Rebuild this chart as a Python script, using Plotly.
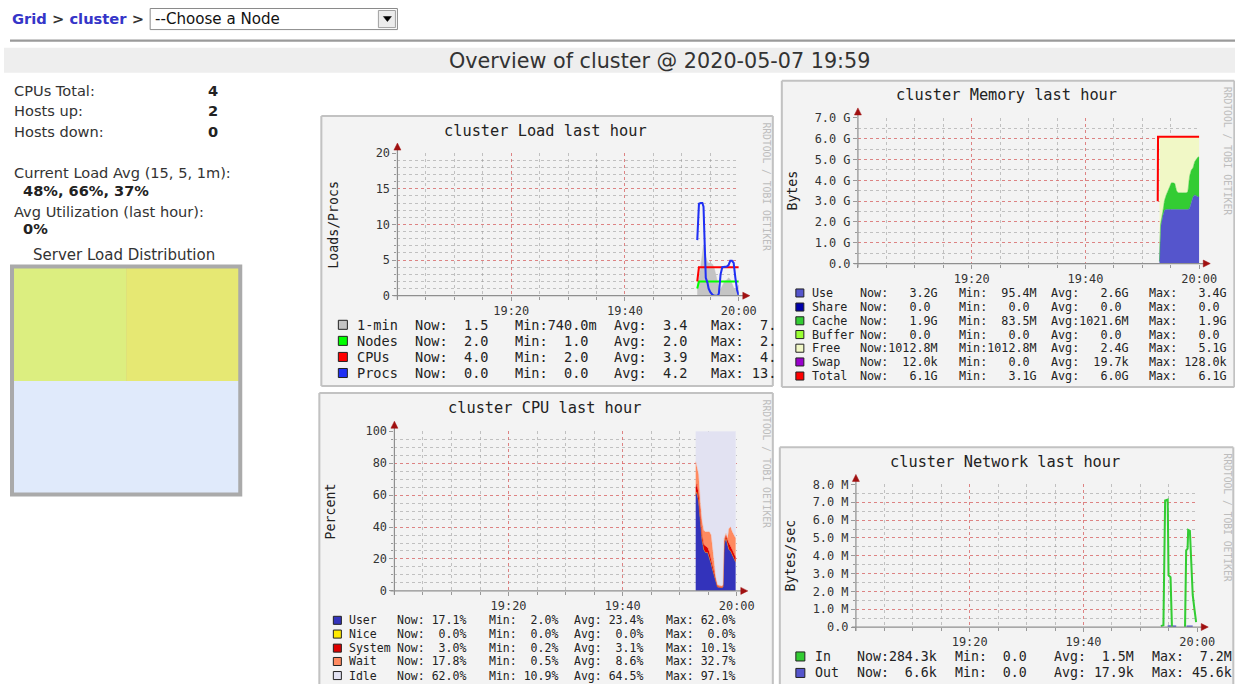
import plotly.graph_objects as go

# Geometry below is written in reference-image pixels. The rendered page comes
# out slightly compressed, so the figure is built a little larger and every
# reference pixel is mapped through SX / SY / OY.
SX, SY, OY = 0.9846, 0.976, 7.5
FS = 1 / 0.98
W, H = 1254, 701


def X(px):
    return (px / SX) / W


def Y(py):
    return 1 - ((py - OY) / SY) / H


# ------------------------------------------------------------------ data
time_ticks = [20, 40, 60]                      # minutes after 19:00
time_labels = ["19:20", "19:40", "20:00"]

# Load chart (minutes after 19:00)
load_t = [52.7, 53.0, 53.3, 53.6, 53.8, 54.0, 54.2, 54.5, 54.7, 55.0, 55.4, 55.7, 56.0,
          56.3, 56.5, 56.8, 57.1, 57.5, 57.9, 58.2, 58.5, 58.8, 59.1, 59.4, 59.7, 60.0]
load_1min = [1.5, 2.5, 4.0, 6.0, 7.1, 7.0, 5.5, 4.7, 4.6, 4.6, 4.4, 3.8, 2.6,
             1.6, 1.1, 0.9, 1.4, 2.0, 2.2, 2.5, 2.3, 1.7, 1.1, 0.9, 1.2, 1.5]
load_nodes = [1.0, 2.0, 2.0, 2.0, 2.0, 2.0, 2.0, 2.0, 2.0, 2.0, 2.0, 2.0, 2.0,
              2.0, 2.0, 2.0, 2.0, 2.0, 2.0, 2.0, 2.0, 2.0, 2.0, 2.0, 2.0, 2.0]
load_cpus = [2.0, 4.0, 4.0, 4.0, 4.0, 4.0, 4.0, 4.0, 4.0, 4.0, 4.0, 4.0, 4.0,
             4.0, 4.0, 4.0, 4.0, 4.0, 4.0, 4.0, 4.0, 4.0, 4.0, 4.0, 4.0, 4.0]
load_procs = [7.8, 12.9, 13.0, 13.0, 12.5, 6.0, 2.5, 1.8, 1.0, 0.5, 0.1, 0.0, 0.0,
              0.0, 0.3, 3.0, 4.0, 4.0, 4.1, 4.3, 4.9, 4.9, 4.6, 2.5, 0.8, 0.0]

# Memory chart (GB)
mem_t = [53.0, 53.2, 53.6, 53.9, 54.2, 54.5, 54.8, 55.1, 55.4, 55.7, 56.0, 56.3, 57.0,
         57.7, 58.0, 58.3, 58.6, 58.9, 59.2, 59.5, 59.8, 60.0]
mem_use = [0.1, 1.75, 2.3, 2.56, 2.6, 2.6, 2.6, 2.6, 2.6, 2.6, 2.6, 2.6, 2.6,
           2.6, 2.6, 2.65, 3.0, 3.2, 3.3, 3.24, 3.2, 3.2]
mem_cache = [0.0, 0.15, 0.2, 0.48, 0.7, 0.9, 1.15, 1.28, 1.28, 1.25, 0.9, 0.8, 0.8,
             0.8, 0.85, 1.55, 1.5, 1.4, 1.6, 1.76, 1.93, 1.9]
mem_free = [6.0, 4.2, 3.6, 3.06, 2.8, 2.6, 2.35, 2.22, 2.22, 2.25, 2.6, 2.7, 2.7,
            2.7, 2.65, 1.9, 1.6, 1.5, 1.2, 1.1, 0.97, 1.0]
mem_total_t = [52.7, 52.75, 60.0]
mem_total = [3.0, 6.1, 6.1]

# CPU chart (percent)
cpu_t = [52.8, 53.0, 53.3, 53.6, 53.9, 54.2, 54.5, 54.9, 55.2, 55.5, 55.7, 56.0, 56.3,
         56.6, 57.0, 57.4, 57.6, 57.8, 58.1, 58.4, 58.6, 58.9, 59.2, 59.5, 59.8]
cpu_user = [60, 62, 56, 43, 32, 26, 24, 24, 21, 17, 14, 10, 5,
            2.5, 2.2, 2.0, 2.5, 29, 33, 28, 26, 25, 23, 21, 18]
cpu_nice = [0, 0, 0, 0, 0, 0, 0, 0, 0, 0, 0, 0, 0,
            0, 0, 0, 0, 0, 0, 0, 0, 0, 0, 0, 0]
cpu_system = [4, 5, 5, 4, 3, 3, 4, 3, 3, 2, 2, 1, 1,
              0.5, 0.3, 0.3, 0.3, 2, 1.5, 3, 4, 3, 3, 3, 3]
cpu_wait = [17, 10, 12, 9, 9, 9, 9, 10, 13, 16, 13, 8, 2.5,
            0.8, 0.7, 0.8, 1.0, 2, 1.5, 2, 9, 12, 11, 11, 12]
cpu_idle = [19, 23, 27, 44, 56, 62, 63, 63, 63, 65, 71, 81, 91.5,
            96.2, 96.8, 96.9, 96.2, 67, 64, 67, 61, 60, 63, 65, 67]

# Network chart (MB/s)
net_in_t = [53.6, 54.05, 54.35, 54.8, 54.95, 55.3, 55.55, 56.5,
            57.85, 58.05, 58.3, 58.4, 58.7, 58.95, 59.2, 59.5, 59.8]
net_in = [0.05, 0.1, 7.1, 7.15, 2.9, 2.8, 0.0, None,
          0.0, 4.3, 4.4, 5.45, 5.4, 3.0, 1.8, 1.0, 0.28]
net_out_t = [54.8, 55.2, 55.6, 56.3, 57.0, 58.1, 58.5, 58.9, 59.2]
net_out = [0.04, 0.045, 0.04, 0.03, None, 0.03, 0.04, 0.04, 0.03]

# Legends (label, now, min, avg, max)
load_legend = [
    ("1-min", "Now:  1.5", "Min:740.0m", "Avg:  3.4", "Max:  7."),
    ("Nodes", "Now:  2.0", "Min:  1.0", "Avg:  2.0", "Max:  2."),
    ("CPUs", "Now:  4.0", "Min:  2.0", "Avg:  3.9", "Max:  4."),
    ("Procs", "Now:  0.0", "Min:  0.0", "Avg:  4.2", "Max: 13."),
]
load_colors = ["#c4c4c4", "#00ff00", "#ff0000", "#2030f4"]

mem_legend = [
    ("Use", "Now:   3.2G", "Min:  95.4M", "Avg:   2.6G", "Max:   3.4G"),
    ("Share", "Now:   0.0", "Min:   0.0", "Avg:   0.0", "Max:   0.0"),
    ("Cache", "Now:   1.9G", "Min:  83.5M", "Avg:1021.6M", "Max:   1.9G"),
    ("Buffer", "Now:   0.0", "Min:   0.0", "Avg:   0.0", "Max:   0.0"),
    ("Free", "Now:1012.8M", "Min:1012.8M", "Avg:   2.4G", "Max:   5.1G"),
    ("Swap", "Now:  12.0k", "Min:   0.0", "Avg:  19.7k", "Max: 128.0k"),
    ("Total", "Now:   6.1G", "Min:   3.1G", "Avg:   6.0G", "Max:   6.1G"),
]
mem_colors = ["#5555cc", "#0000aa", "#33cc33", "#99ff33", "#f1f8c6", "#9900cc", "#ff0000"]

cpu_legend = [
    ("User", "Now: 17.1%", "Min:  2.0%", "Avg: 23.4%", "Max: 62.0%"),
    ("Nice", "Now:  0.0%", "Min:  0.0%", "Avg:  0.0%", "Max:  0.0%"),
    ("System", "Now:  3.0%", "Min:  0.2%", "Avg:  3.1%", "Max: 10.1%"),
    ("Wait", "Now: 17.8%", "Min:  0.5%", "Avg:  8.6%", "Max: 32.7%"),
    ("Idle", "Now: 62.0%", "Min: 10.9%", "Avg: 64.5%", "Max: 97.1%"),
]
cpu_colors = ["#3333bb", "#ffea00", "#dd0000", "#ff8a60", "#e2e2f2"]

net_legend = [
    ("In", "Now:284.3k", "Min:  0.0", "Avg:  1.5M", "Max:  7.2M"),
    ("Out", "Now:  6.6k", "Min:  0.0", "Avg: 17.9k", "Max: 45.6k"),
]
net_colors = ["#33cc33", "#5555cc"]

mem_ticks = [0, 1, 2, 3, 4, 5, 6, 7]
mem_ticktext = ["0.0", "1.0 G", "2.0 G", "3.0 G", "4.0 G", "5.0 G", "6.0 G", "7.0 G"]
net_ticks = [0, 1, 2, 3, 4, 5, 6, 7, 8]
net_ticktext = ["0.0", "1.0 M", "2.0 M", "3.0 M", "4.0 M", "5.0 M", "6.0 M", "7.0 M", "8.0 M"]
load_ticks = [0, 5, 10, 15, 20]
cpu_ticks = [0, 20, 40, 60, 80, 100]

# ------------------------------------------------------------------ figure
MONO = "DejaVu Sans Mono"
SANS = "DejaVu Sans"
fig = go.Figure()
shapes = []
anns = []


def nb(s):
    return s.replace(" ", "\u00a0")


def txt(x, y, s, size, color="#222", family=MONO, xanchor="left", angle=0):
    anns.append(dict(x=X(x), y=Y(y), xref="paper", yref="paper", text=nb(s) if "<" not in s else s,
                     showarrow=False, xanchor=xanchor, yanchor="middle", textangle=angle,
                     font=dict(family=family, size=size * FS, color=color)))


def rect(x0, y0, x1, y1, fill, line=None, lw=0, layer="below"):
    shapes.append(dict(type="rect", xref="paper", yref="paper", x0=X(x0), x1=X(x1),
                       y0=Y(y1), y1=Y(y0), fillcolor=fill, layer=layer,
                       line=dict(color=line or fill, width=lw)))


def seg(x0, y0, x1, y1, color, w=1, layer="above"):
    shapes.append(dict(type="line", xref="paper", yref="paper", x0=X(x0), x1=X(x1),
                       y0=Y(y0), y1=Y(y1), layer=layer, line=dict(color=color, width=w * FS)))


def tri(pts, color, layer="above"):
    p = "M " + " L ".join(f"{X(a):.5f},{Y(b):.5f}" for a, b in pts) + " Z"
    shapes.append(dict(type="path", xref="paper", yref="paper", path=p, fillcolor=color,
                       line=dict(color=color, width=0.5), layer=layer))


# page header
txt(10, 19, "<b><span style='color:#3535c8'>Grid</span> &gt; <span style='color:#3535c8'>cluster</span> &gt;</b>",
    14.4, color="#333", family=SANS)
rect(150, 9, 397, 30, "#ffffff", "#8a8a8a", 1)
txt(153, 19.5, "--Choose a Node", 14.8, color="#111", family=SANS)
rect(378, 11, 395, 28, "#ececec", "#a0a0a0", 1)
tri([(383, 17), (391, 17), (387, 22)], "#000000")
seg(10, 41, 1235, 41, "#9a9a9a", 2, layer="below")
rect(4, 48, 1235, 73, "#eeeeee")
txt(659, 61, "Overview of cluster @ 2020-05-07 19:59", 20.3, color="#333", family=SANS, xanchor="center")

# left stats
for label, value, yy in [("CPUs Total:", "4", 90.5), ("Hosts up:", "2", 111), ("Hosts down:", "0", 131)]:
    txt(12, yy, label, 14.3, color="#333", family=SANS)
    txt(206, yy, f"<b>{value}</b>", 14.3, color="#222", family=SANS)
txt(12, 172.5, "Current Load Avg (15, 5, 1m):", 14.3, color="#333", family=SANS)
txt(21, 190.5, "<b>48%, 66%, 37%</b>", 14.3, color="#222", family=SANS)
txt(12, 211, "Avg Utilization (last hour):", 14.3, color="#333", family=SANS)
txt(21, 228.5, "<b>0%</b>", 14.3, color="#222", family=SANS)
txt(124, 254, "Server Load Distribution", 14.7, color="#333", family=SANS, xanchor="center")
rect(10, 264, 242, 495, "#aaaaaa")
rect(14, 268, 126, 380, "#dcee80")
rect(126, 268, 238, 380, "#e6e873")
rect(14, 380, 238, 491, "#e0eafb")

# chart panels (px geometry); cut=True -> panel runs off the bottom of the page
panels = {
    "load": dict(box=(321, 116, 772, 385), plot=(397, 153, 738, 295), cut=False),
    "mem": dict(box=(781, 81, 1233, 386), plot=(857, 118, 1198, 263), cut=False),
    "cpu": dict(box=(319, 392, 772, 690), plot=(394, 430, 736, 589), cut=True),
    "net": dict(box=(779, 446, 1232, 690), plot=(855, 483, 1196, 625), cut=True),
}
BORDER = "#c2c2c2"
for p in panels.values():
    bx0, by0, bx1, by1 = p["box"]
    rect(bx0, by0, bx1, by1, "#f3f3f3")
    seg(bx0, by0, bx1, by0, BORDER, 2, layer="below")
    seg(bx0, by0, bx0, by1, BORDER, 2, layer="below")
    seg(bx1, by0, bx1, by1, BORDER, 2, layer="below")
    if not p["cut"]:
        seg(bx0, by1, bx1, by1, BORDER, 2, layer="below")

tickfont = dict(family=MONO, size=11.7 * FS, color="#333")


def xcfg(p, anchor):
    x0, y0, x1, y1 = p["plot"]
    return dict(domain=[X(x0), X(x1)], range=[0, 60], anchor=anchor,
                tickmode="array", tickvals=time_ticks, ticktext=time_labels,
                showgrid=True, gridcolor="rgba(240,90,90,0.6)", griddash="dot", gridwidth=1,
                minor=dict(tickmode="linear", tick0=0, dtick=5, showgrid=True,
                           gridcolor="rgba(150,150,150,0.55)", griddash="dot", gridwidth=1,
                           ticks="outside", ticklen=3, tickcolor="#999"),
                ticks="outside", ticklen=4, tickcolor="#999", showline=False, zeroline=False,
                tickfont=tickfont, fixedrange=True)


def ycfg(p, anchor, rng, tv, tt, mdt):
    x0, y0, x1, y1 = p["plot"]
    return dict(domain=[Y(y1), Y(y0)], range=rng, anchor=anchor,
                tickmode="array", tickvals=tv, ticktext=tt,
                showgrid=True, gridcolor="rgba(240,90,90,0.6)", griddash="dot", gridwidth=1,
                minor=dict(tickmode="linear", tick0=0, dtick=mdt, showgrid=True,
                           gridcolor="rgba(150,150,150,0.55)", griddash="dot", gridwidth=1,
                           ticks="outside", ticklen=2, tickcolor="#999"),
                ticks="outside", ticklen=4, tickcolor="#999", showline=False, zeroline=False,
                tickfont=tickfont, fixedrange=True)


# axes arrows + lines + titles + decorations
titles = {"load": "cluster Load last hour", "mem": "cluster Memory last hour",
          "cpu": "cluster CPU last hour", "net": "cluster Network last hour"}
ytitles = {"load": "Loads/Procs", "mem": "Bytes", "cpu": "Percent", "net": "Bytes/sec"}
ytitle_x = {"load": 333, "mem": 792, "cpu": 330, "net": 790}
for key, p in panels.items():
    x0, y0, x1, y1 = p["plot"]
    bx = p["box"]
    seg(x0, y1 + 4, x0, y0 - 5, "#8f8f8f", 1.2)
    seg(x0 - 4, y1, x1 + 6, y1, "#8f8f8f", 1.2)
    tri([(x0 - 3.5, y0 - 3), (x0 + 3.5, y0 - 3), (x0, y0 - 10)], "#a01010")
    tri([(x1 + 4, y1 - 3.5), (x1 + 4, y1 + 3.5), (x1 + 11, y1)], "#a01010")
    txt((bx[0] + bx[2]) / 2 - 2, bx[1] + 14.5, titles[key], 15, color="#222", xanchor="center")
    txt(ytitle_x[key], (y0 + y1) / 2, ytitles[key], 13, color="#222", xanchor="center", angle=-90)
    txt(bx[2] - 6, bx[1] + 70, "RRDTOOL / TOBI OETIKER", 9.5, color="#bdbdbd", xanchor="center", angle=90)


# legends
def legend(rows, colors, sw_x, sw, rows_y, cols_x, size):
    for (lab, a, b, c, d), col, yy in zip(rows, colors, rows_y):
        rect(sw_x, yy - sw / 2, sw_x + sw, yy + sw / 2, col, "#222222", 1, layer="above")
        txt(cols_x[0], yy, lab, size)
        for s, cx in zip((a, b, c, d), cols_x[1:]):
            txt(cx, yy, s, size)


legend(load_legend, load_colors, 338, 9, [324, 340, 356, 372], [355, 413, 512, 611, 708], 13.3)
legend(mem_legend, mem_colors, 795, 8, [292.3, 306.3, 320, 333.7, 347.3, 361, 375],
       [809, 857, 956, 1048, 1146], 11.5)
legend(cpu_legend, cpu_colors, 333, 8, [618.3, 632, 646, 659.3, 673.3],
       [347, 395, 486, 571, 663], 11.3)
legend(net_legend, net_colors, 795, 9, [654.3, 670.7], [812, 854, 952, 1051, 1149], 13)

# ------------------------------------------------------------------ traces
LW = 2 * FS
# Load
fig.add_trace(go.Scatter(x=load_t, y=load_1min, mode="lines", fill="tozeroy",
                         fillcolor="#c4c4c4", line=dict(color="#c4c4c4", width=0.5),
                         xaxis="x", yaxis="y", name="1-min"))
fig.add_trace(go.Scatter(x=load_t, y=load_nodes, mode="lines", line=dict(color="#00ff00", width=LW),
                         xaxis="x", yaxis="y", name="Nodes"))
fig.add_trace(go.Scatter(x=load_t, y=load_cpus, mode="lines", line=dict(color="#ff0000", width=LW),
                         xaxis="x", yaxis="y", name="CPUs"))
fig.add_trace(go.Scatter(x=load_t, y=load_procs, mode="lines", line=dict(color="#2030f4", width=LW),
                         xaxis="x", yaxis="y", name="Procs"))

# Memory (stacked)
for vals, col, nm in [(mem_use, "#5555cc", "Use"), (mem_cache, "#33cc33", "Cache"),
                      (mem_free, "#f1f8c6", "Free")]:
    fig.add_trace(go.Scatter(x=mem_t, y=vals, mode="lines", stackgroup="mem",
                             fillcolor=col, line=dict(color=col, width=0.5),
                             xaxis="x2", yaxis="y2", name=nm))
fig.add_trace(go.Scatter(x=mem_total_t, y=mem_total, mode="lines", line=dict(color="#ff0000", width=LW),
                         xaxis="x2", yaxis="y2", name="Total"))

# CPU (stacked)
for vals, col, nm in [(cpu_user, "#3333bb", "User"), (cpu_nice, "#ffea00", "Nice"),
                      (cpu_system, "#dd0000", "System"), (cpu_wait, "#ff8a60", "Wait"),
                      (cpu_idle, "#e2e2f2", "Idle")]:
    fig.add_trace(go.Scatter(x=cpu_t, y=vals, mode="lines", stackgroup="cpu",
                             fillcolor=col, line=dict(color=col, width=0.3),
                             xaxis="x3", yaxis="y3", name=nm))

# Network
fig.add_trace(go.Scatter(x=net_out_t, y=net_out, mode="lines", line=dict(color="#5555cc", width=LW),
                         connectgaps=False, xaxis="x4", yaxis="y4", name="Out"))
fig.add_trace(go.Scatter(x=net_in_t, y=net_in, mode="lines", line=dict(color="#33cc33", width=LW),
                         connectgaps=False, xaxis="x4", yaxis="y4", name="In"))

fig.update_layout(
    width=W, height=H, autosize=False, margin=dict(l=0, r=0, t=0, b=0),
    paper_bgcolor="#ffffff", plot_bgcolor="#ffffff", showlegend=False,
    xaxis=xcfg(panels["load"], "y"),
    yaxis=ycfg(panels["load"], "x", [0, 20], load_ticks, [str(v) for v in load_ticks], 1),
    xaxis2=xcfg(panels["mem"], "y2"),
    yaxis2=ycfg(panels["mem"], "x2", [0, 7], mem_ticks, mem_ticktext, 0.5),
    xaxis3=xcfg(panels["cpu"], "y3"),
    yaxis3=ycfg(panels["cpu"], "x3", [0, 100], cpu_ticks, [str(v) for v in cpu_ticks], 5),
    xaxis4=xcfg(panels["net"], "y4"),
    yaxis4=ycfg(panels["net"], "x4", [0, 8], net_ticks, net_ticktext, 0.5),
    shapes=shapes, annotations=anns, hovermode=False,
)

fig.write_html(
    "out.html",
    config={"displayModeBar": False},
    post_script=("document.documentElement.style.margin='0';"
                 "document.documentElement.style.overflow='hidden';"
                 "document.body.style.margin='0';document.body.style.overflow='hidden';"),
)
